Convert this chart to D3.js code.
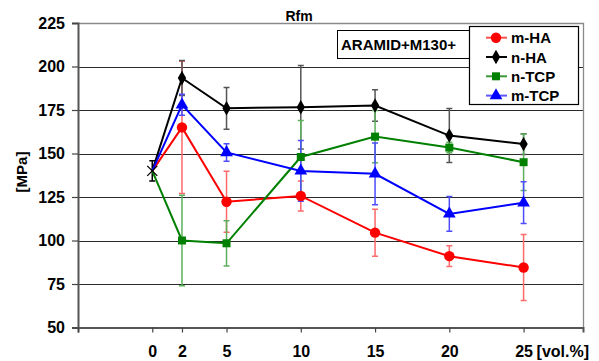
<!DOCTYPE html>
<html>
<head>
<meta charset="utf-8">
<script src="https://cdn.jsdelivr.net/npm/d3@7"></script>
<style>
  body { margin: 0; background: #fff; }
  svg { font-family: "Liberation Sans", Arial, sans-serif; font-weight: bold; }
</style>
</head>
<body>
<div id="chart"></div>
<script>
// filler content [vol.%]
const xVals = [0, 2, 5, 10, 15, 20, 25];
const xTicks = [-5, 0, 2, 5, 10, 15, 20, 25];
const yTicks = [50, 75, 100, 125, 150, 175, 200, 225];

// Rfm [MPa], first point (0 vol.%) is the shared reference
const mHA     = [140, 165, 122.3, 125.6, 104.5, 91, 84.5];
const mHAErr  = [0, 38, 17.5, 8.6, 13.5, 6, 19];
const nHA     = [140, 193.4, 176, 176.6, 177.6, 160.3, 155.4];
const nHAErr  = [0, 10, 12, 24, 9, 15.5, 6];
const nTCP    = [140, 100, 98.4, 148, 159.7, 153.4, 145];
const nTCPErr = [0, 26, 13, 21, 15, 3, 16.2];
const mTCP    = [140, 178, 150.6, 140, 138.3, 115.3, 121.7];
const mTCPErr = [0, 6, 5, 17.5, 17.7, 10, 12];
const refVal = 140, refErr = 5.8;

const series = [
  {name: "m-HA",  vals: mHA,  errs: mHAErr,  color: "#ff0000", err: "#ff6a6a", light: "#ff5050", marker: "circle"},
  {name: "n-HA",  vals: nHA,  errs: nHAErr,  color: "#000000", err: "#555555", light: "#000000", marker: "diamond"},
  {name: "n-TCP", vals: nTCP, errs: nTCPErr, color: "#008000", err: "#5cb05c", light: "#3a9a3a", marker: "square"},
  {name: "m-TCP", vals: mTCP, errs: mTCPErr, color: "#0000ff", err: "#4d4dff", light: "#5a5aff", marker: "triangle"}
];

const W = 599, H = 361;
const margin = {top: 23, right: 16, bottom: 34, left: 78};
const svg = d3.select("#chart").append("svg")
  .attr("width", W).attr("height", H);

const x = d3.scaleLinear().domain([-5, 29]).range([margin.left, W - margin.right]);
const y = d3.scaleLinear().domain([50, 225]).range([H - margin.bottom + 0.5, margin.top]);

// gridlines
svg.append("g").selectAll("line")
  .data(yTicks.filter(d => d > 50 && d < 225))
  .enter().append("line")
  .attr("x1", x(-5)).attr("x2", x(29))
  .attr("y1", d => Math.round(y(d)) + 0.5).attr("y2", d => Math.round(y(d)) + 0.5)
  .attr("stroke", "#2a2a2a").attr("stroke-width", 1);

// top & right border
svg.append("path")
  .attr("d", `M${x(-5)},${Math.round(y(225)) + 0.5}H${Math.round(x(29)) + 0.5}V${y(50)}`)
  .attr("fill", "none").attr("stroke", "#8a8a8a").attr("stroke-width", 1.3);

// y axis
const yAxis = svg.append("g")
  .attr("transform", `translate(${x(-5)},0)`)
  .call(d3.axisLeft(y).tickValues(yTicks).tickSize(6).tickPadding(7));
yAxis.select(".domain").attr("stroke", "#555").attr("stroke-width", 2);
yAxis.selectAll(".tick line").attr("stroke", "#444").attr("stroke-width", 1.2);
yAxis.selectAll("text").attr("font-size", 16).attr("font-weight", "bold")
  .attr("fill", "#000").attr("font-family", "Liberation Sans, Arial, sans-serif");

// x axis
const xAxis = svg.append("g")
  .attr("transform", `translate(0,${y(50)})`)
  .call(d3.axisBottom(x).tickValues(xTicks).tickSize(5).tickPadding(13)
    .tickFormat(d => d < 0 ? "" : d));
xAxis.select(".domain").attr("stroke", "#555").attr("stroke-width", 2);
xAxis.selectAll(".tick line").attr("stroke", "#444").attr("stroke-width", 1.2);
xAxis.selectAll("text").attr("font-size", 16).attr("font-weight", "bold")
  .attr("fill", "#000").attr("font-family", "Liberation Sans, Arial, sans-serif");

svg.append("text")
  .attr("x", x(25) + 13).attr("y", 357)
  .attr("font-size", 16).text("[vol.%]");

// y label
svg.append("text")
  .attr("transform", `translate(27,172) rotate(-90)`)
  .attr("text-anchor", "middle").attr("font-size", 15).text("[MPa]");

// title
svg.append("text")
  .attr("x", 299).attr("y", 21)
  .attr("text-anchor", "middle").attr("font-size", 14).text("Rfm");

// error bars
const cap = 3;
series.forEach(s => {
  const g = svg.append("g");
  xVals.forEach((xv, i) => {
    if (i === 0) return;
    const e = s.errs[i];
    const y1 = y(s.vals[i] + e), y2 = y(s.vals[i] - e), cx = x(xv);
    g.append("path")
      .attr("d", `M${cx},${y1}V${y2}M${cx - cap},${y1}H${cx + cap}M${cx - cap},${y2}H${cx + cap}`)
      .attr("stroke", s.err).attr("stroke-width", 1.5).attr("fill", "none");
  });
});
// shared reference error bar
svg.append("path")
  .attr("d", `M${x(0)},${y(refVal + refErr)}V${y(refVal - refErr)}M${x(0) - cap},${y(refVal + refErr)}H${x(0) + cap}M${x(0) - cap},${y(refVal - refErr)}H${x(0) + cap}`)
  .attr("stroke", "#000").attr("stroke-width", 1.5).attr("fill", "none");

const symbolFor = {
  circle: d3.symbol().type(d3.symbolCircle).size(85),
  diamond: d3.symbol().type(d3.symbolDiamond).size(60),
  square: d3.symbol().type(d3.symbolSquare).size(64),
  triangle: d3.symbol().type(d3.symbolTriangle).size(70)
};

const line = d3.line().x(d => x(d[0])).y(d => y(d[1]));

series.forEach(s => {
  const pts = xVals.map((xv, i) => [xv, s.vals[i]]);
  svg.append("path")
    .attr("d", line(pts))
    .attr("fill", "none").attr("stroke", s.color).attr("stroke-width", 2);
  svg.append("g").selectAll("path")
    .data(pts.slice(1))
    .enter().append("path")
    .attr("transform", d => `translate(${x(d[0])},${y(d[1])})`)
    .attr("d", symbolFor[s.marker]())
    .attr("fill", s.color);
});

// reference point marker (X)
svg.append("path")
  .attr("d", `M${x(0) - 5},${y(refVal) - 5}L${x(0) + 5},${y(refVal) + 5}M${x(0) - 5},${y(refVal) + 5}L${x(0) + 5},${y(refVal) - 5}`)
  .attr("stroke", "#000").attr("stroke-width", 1.3);

// annotation box
const note = svg.append("g");
note.append("rect")
  .attr("x", 337.5).attr("y", 30.5).attr("width", 150).attr("height", 28)
  .attr("fill", "#fff").attr("stroke", "#000").attr("stroke-width", 1);
note.append("text")
  .attr("x", 341).attr("y", 50).attr("font-size", 15).text("ARAMID+M130+");

// legend
const legend = svg.append("g");
legend.append("rect")
  .attr("x", 469.5).attr("y", 26.5).attr("width", 109).attr("height", 78)
  .attr("fill", "#fff").attr("stroke", "#000").attr("stroke-width", 1.2);
series.forEach((s, i) => {
  const ly = 37.7 + i * 19.3;
  const g = legend.append("g");
  g.append("line")
    .attr("x1", 486).attr("x2", 507).attr("y1", ly).attr("y2", ly)
    .attr("stroke", s.light).attr("stroke-width", 2);
  g.append("path")
    .attr("transform", `translate(496,${ly})`)
    .attr("d", symbolFor[s.marker]())
    .attr("fill", s.color);
  g.append("text")
    .attr("x", 511).attr("y", ly + 5.5).attr("font-size", 15).text(s.name);
});
</script>
</body>
</html>
